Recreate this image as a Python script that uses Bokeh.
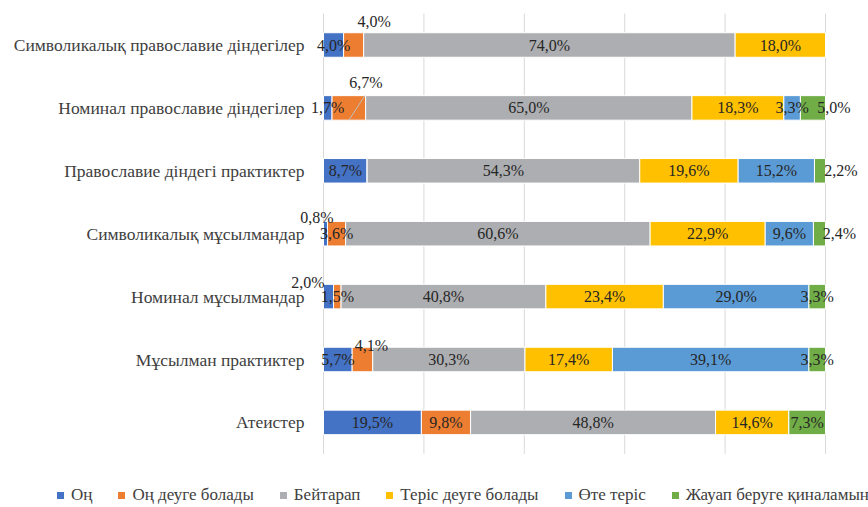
from bokeh.plotting import figure
from bokeh.models import ColumnDataSource, Legend, LegendItem, Range1d
from bokeh.core.properties import value
from bokeh.embed import file_html
from bokeh.resources import INLINE

# ---------------- data ----------------
categories = [
    "Символикалық православие діндегілер",
    "Номинал православие діндегілер",
    "Православие діндегі практиктер",
    "Символикалық мұсылмандар",
    "Номинал мұсылмандар",
    "Мұсылман практиктер",
    "Атеистер",
]
series_names = ["Оң", "Оң деуге болады", "Бейтарап", "Теріс деуге болады",
                "Өте теріс", "Жауап беруге қиналамын"]
on_vals = [4.0, 1.7, 8.7, 0.8, 2.0, 5.7, 19.5]
on_maybe_vals = [4.0, 6.7, 0.0, 3.6, 1.5, 4.1, 9.8]
neutral_vals = [74.0, 65.0, 54.3, 60.6, 40.8, 30.3, 48.8]
neg_maybe_vals = [18.0, 18.3, 19.6, 22.9, 23.4, 17.4, 14.6]
very_neg_vals = [0.0, 3.3, 15.2, 9.6, 29.0, 39.1, 0.0]
no_answer_vals = [0.0, 5.0, 2.2, 2.4, 3.3, 3.3, 7.3]
grid_ticks = [0, 20, 40, 60, 80, 100]

colors = ["#4472C4", "#ED7D31", "#ADAEB1", "#FFC000", "#5B9BD5", "#70AD47"]

# manual label displacements (screen px: dx right, dy down), as in the original
label_shift = {
    (0, 1): (20.5, -24),
    (1, 1): (17, -25.5),
    (1, 5): (21, 0),
    (2, 5): (21, 0),
    (3, 0): (-8.5, -16.5),
    (3, 5): (20, 0),
    (4, 0): (-20.5, -13.7),
    (5, 1): (9, -14.5),
}

# ---------------- layout ----------------
W, H = 868, 507
X0_PX, X100_PX = 323, 825          # frame px of 0% and 100%
SX = (X100_PX - X0_PX) / 100.0     # px per percent
ROW0_PX = 44.5                     # frame px of first row centre
SY = 62.9                          # px per row
n = len(categories)

x_start = -X0_PX / SX
x_end = (W - X0_PX) / SX
y_end = (n - 1) + ROW0_PX / SY
y_start = y_end - H / SY

p = figure(width=W, height=H, output_backend="svg", toolbar_location=None,
           x_range=Range1d(x_start, x_end), y_range=Range1d(y_start, y_end),
           min_border=0)
p.axis.visible = False
p.grid.visible = False
p.outline_line_color = None

series = [on_vals, on_maybe_vals, neutral_vals, neg_maybe_vals, very_neg_vals, no_answer_vals]
keys = [f"s{i}" for i in range(len(series))]
ys = [n - 1 - i for i in range(n)]
totals = [sum(s[i] for s in series) for i in range(n)]
data = {"y": ys, "cat": categories}
for k, s in zip(keys, series):
    data[k] = [s[i] / totals[i] * 100.0 for i in range(n)]
src = ColumnDataSource(data)

# gridlines
p.segment(x0=grid_ticks, x1=grid_ticks, y0=[-0.5] * len(grid_ticks),
          y1=[n - 0.5] * len(grid_ticks), line_color="#D9D9D9", line_width=1)

renderers = p.hbar_stack(keys, y="y", height=0.39, source=src, color=colors,
                         line_color="white", line_width=1)

# category labels
p.text(x=[0] * n, y=ys, text=categories, x_offset=-19, text_align="right",
       text_baseline="middle", text_font=value("Liberation Serif"),
       text_font_size="17.5px", text_color="#404040")

# data labels
lx, ly, lt = [], [], []
lead_x0, lead_x1, lead_y0, lead_y1 = [], [], [], []
for i in range(n):
    left = 0.0
    for j, k in enumerate(keys):
        w = data[k][i]
        raw = series[j][i]
        if raw > 0:
            cx = left + w / 2
            dx, dy = label_shift.get((i, j), (0, 0))
            lx.append(cx + dx / SX)
            ly.append(ys[i] - dy / SY)
            lt.append(f"{raw:.1f}%".replace(".", ","))
            if (i, j) == (1, 1):
                lead_x0.append(cx + 16 / SX)
                lead_y0.append(ys[i] + 0.195)
                lead_x1.append(cx)
                lead_y1.append(ys[i] - 0.195)
        left += w
p.segment(x0=lead_x0, y0=lead_y0, x1=lead_x1, y1=lead_y1,
          line_color="#BFBFBF", line_width=1)
p.text(x=lx, y=ly, text=lt, text_align="center", text_baseline="middle",
       text_font=value("Liberation Serif"), text_font_size="16px",
       text_color="#262626")

legend = Legend(items=[LegendItem(label=nm, renderers=[r]) for nm, r in zip(series_names, renderers)],
                orientation="horizontal", location=(55, 2),
                glyph_width=10, glyph_height=10, label_standoff=6, spacing=24,
                padding=0, margin=0, label_height=14,
                border_line_alpha=0, background_fill_alpha=0,
                label_text_font="Liberation Serif", label_text_font_size="17px",
                label_text_color="#404040")
p.add_layout(legend, "center")

open("out.html", "w").write(file_html(p, INLINE))
